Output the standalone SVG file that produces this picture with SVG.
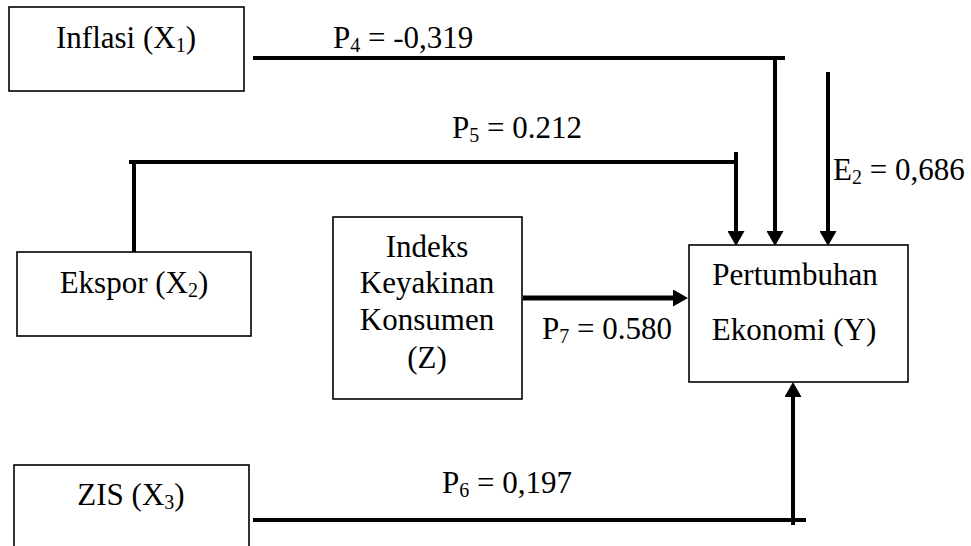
<svg xmlns="http://www.w3.org/2000/svg" width="971" height="546" viewBox="0 0 971 546">
<style>
  .box { fill: #ffffff; stroke: #000000; stroke-width: 1.6; }
  .t { font-size: 31px; fill: #000000; }
  .c { text-anchor: middle; }
  .sub { font-size: 20px; }
  .ln { stroke: #000000; stroke-width: 4; fill: none; }
  .arr { stroke: #000000; stroke-width: 4; fill: none; marker-end: url(#ah); }
</style>
<defs>
  <marker id="ah" markerUnits="userSpaceOnUse" markerWidth="16" markerHeight="17" refX="0" refY="8.5" orient="auto" viewBox="0 0 16 17">
    <path d="M0,0 L15,8.5 L0,17 Z" fill="#000000"/>
  </marker>
</defs>
<rect width="971" height="546" fill="#ffffff"/>

<g id="connectors">
  <line class="ln" x1="253" y1="58" x2="785" y2="58"/>
  <line class="arr" x1="775" y1="58" x2="775" y2="231"/>
  <line class="ln" x1="129" y1="162" x2="738" y2="162"/>
  <line class="ln" x1="134" y1="160" x2="134" y2="252"/>
  <line class="arr" x1="736" y1="152" x2="736" y2="231"/>
  <line class="arr" x1="828" y1="72" x2="828" y2="231"/>
  <line class="arr" x1="523" y1="298" x2="673" y2="298" style="stroke-width:5"/>
  <line class="ln" x1="253" y1="520" x2="806" y2="520"/>
  <line class="arr" x1="793" y1="525" x2="793" y2="397"/>
</g>

<g font-family="Liberation Serif, Tinos, DejaVu Serif, serif">
<g id="inflasi">
  <rect class="box" x="9" y="7" width="235" height="84"/>
  <text class="t c" x="126" y="48">Inflasi (X<tspan class="sub" dy="4">1</tspan><tspan dy="-4">)</tspan></text>
</g>
<g id="ekspor">
  <rect class="box" x="17" y="252" width="234" height="84"/>
  <text class="t c" x="134" y="293">Ekspor (X<tspan class="sub" dy="4">2</tspan><tspan dy="-4">)</tspan></text>
</g>
<g id="zis">
  <rect class="box" x="14" y="465" width="235" height="100"/>
  <text class="t c" x="131" y="505">ZIS (X<tspan class="sub" dy="4">3</tspan><tspan dy="-4">)</tspan></text>
</g>
<g id="ikk">
  <rect class="box" x="333" y="217" width="189" height="182"/>
  <text class="t c" x="427" y="257">Indeks</text>
  <text class="t c" x="427" y="293">Keyakinan</text>
  <text class="t c" x="427" y="330">Konsumen</text>
  <text class="t c" x="427" y="368">(Z)</text>
</g>
<g id="pertumbuhan">
  <rect class="box" x="689" y="245" width="219" height="137"/>
  <text class="t c" x="795" y="285">Pertumbuhan</text>
  <text class="t c" x="794" y="340">Ekonomi (Y)</text>
</g>

<g id="labels">
  <text class="t" x="333" y="48">P<tspan class="sub" dy="4">4</tspan><tspan dy="-4"> = -0,319</tspan></text>
  <text class="t" x="452" y="138">P<tspan class="sub" dy="4">5</tspan><tspan dy="-4"> = 0.212</tspan></text>
  <text class="t" x="442" y="493">P<tspan class="sub" dy="4">6</tspan><tspan dy="-4"> = 0,197</tspan></text>
  <text class="t" x="542" y="339">P<tspan class="sub" dy="4">7</tspan><tspan dy="-4"> = 0.580</tspan></text>
  <text class="t" x="833" y="180">E<tspan class="sub" dy="4">2</tspan><tspan dy="-4"> = 0,686</tspan></text>
</g>
</g>
</svg>
